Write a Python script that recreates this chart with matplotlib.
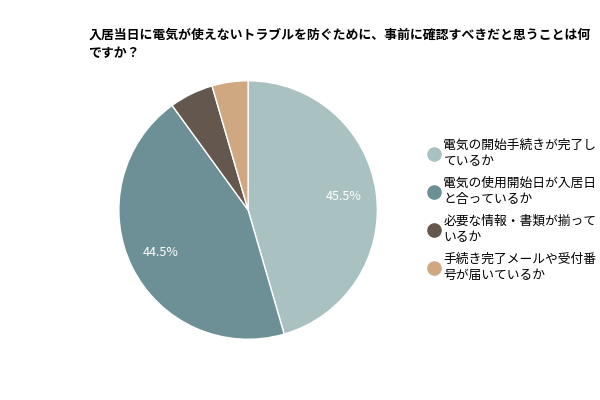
import matplotlib
matplotlib.use('Agg')
import matplotlib.pyplot as plt
from matplotlib.lines import Line2D

plt.rcParams['font.family'] = ['Noto Sans CJK JP', 'DejaVu Sans']

title = '入居当日に電気が使えないトラブルを防ぐために、事前に確認すべきだと思うことは何\nですか？'
labels = ['電気の開始手続きが完了し\nているか',
          '電気の使用開始日が入居日\nと合っているか',
          '必要な情報・書類が揃って\nいるか',
          '手続き完了メールや受付番\n号が届いているか']
values = [45.5, 44.5, 5.5, 4.5]
colors = ['#a9c1c1', '#6c9095', '#63574e', '#cfa882']

fig = plt.figure(figsize=(6, 4), dpi=100)
ax = fig.add_axes([0.197, 0.15, 0.433, 0.65])

def fmt(p):
    return '%.1f%%' % p if p > 10 else ''

wedges, texts, autotexts = ax.pie(values, colors=colors, startangle=90, counterclock=False,
                                  autopct=fmt, pctdistance=0.75,
                                  wedgeprops=dict(edgecolor='white', linewidth=1))
for t in autotexts:
    t.set_color('white')
    t.set_fontsize(9)
ax.set_xlim(-1.005, 1.005)
ax.set_ylim(-1.005, 1.005)
ax.set_aspect('equal')

fig.text(0.147, 0.93, title, fontsize=9.3, fontweight='bold', va='top', ha='left',
         linespacing=1.35)

handles = [Line2D([], [], marker='o', linestyle='', markersize=9.5, markerfacecolor=c,
                  markeredgecolor=c) for c in colors]
leg = fig.legend(handles, labels, loc='upper left', bbox_to_anchor=(0.705, 0.665), frameon=False,
                 fontsize=9.2, handletextpad=0.3, labelspacing=0.7, borderaxespad=0,
                 handlelength=0.9)
for t in leg.get_texts():
    t.set_linespacing(1.3)

fig.savefig('out.png', dpi=100)
